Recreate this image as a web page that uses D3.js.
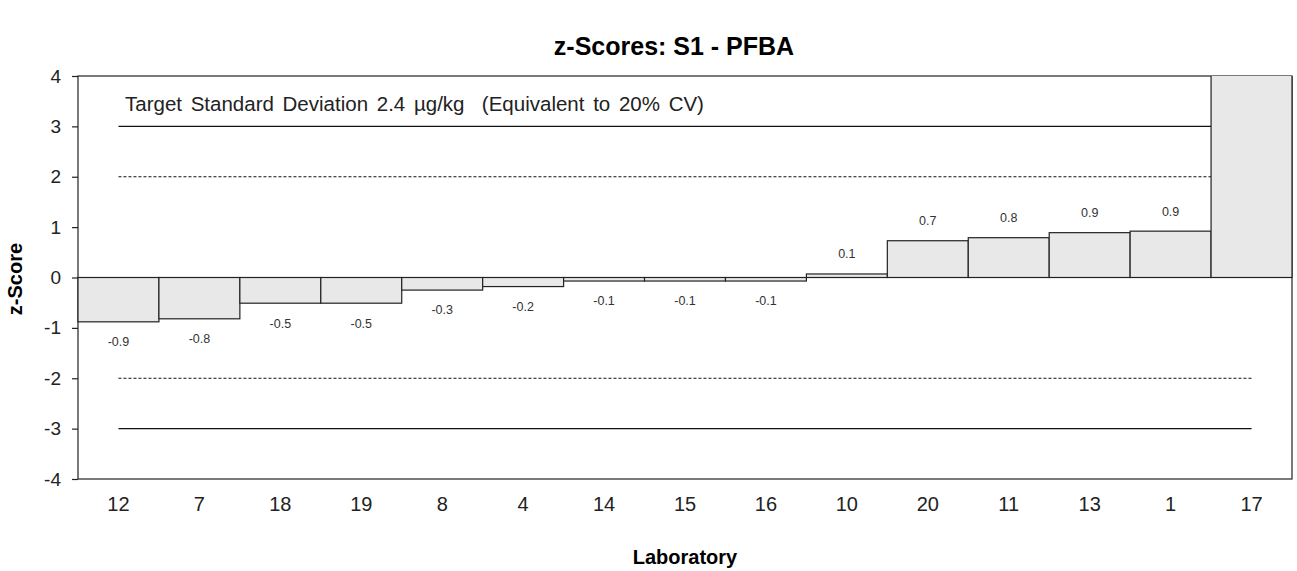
<!DOCTYPE html>
<html>
<head>
<meta charset="utf-8">
<script src="https://cdn.jsdelivr.net/npm/d3@7"></script>
<style>
  body { margin: 0; background: #fff; }
  svg { display: block; font-family: "Liberation Sans", Arial, sans-serif; }
</style>
</head>
<body>
<svg id="chart" width="1297" height="571"></svg>
<script>
// data
const labs = ["12", "7", "18", "19", "8", "4", "14", "15", "16", "10", "20", "11", "13", "1", "17"];
const zScores = [-0.88, -0.82, -0.51, -0.51, -0.25, -0.18, -0.07, -0.07, -0.07, 0.07, 0.73, 0.79, 0.89, 0.92, 5.6];
const yTicks = [-4, -3, -2, -1, 0, 1, 2, 3, 4];
const limits = [
    {v: 3, dash: null}, {v: 2, dash: "3,2"},
    {v: -2, dash: "3,2"}, {v: -3, dash: null}
];

const svg = d3.select("#chart");
const L = 78, R = 1292, T = 76, B = 479;

//** SCALES *****************************************
let x = d3.scaleBand().domain(labs).range([L, R]).padding(0);
let y = d3.scaleLinear().domain([-4, 4]).range([B, T]);
// Excel style: plain hyphen for negatives
const fmt = v => d3.format(".1f")(v).replace("\u2212", "-");

svg.append("defs").append("clipPath").attr("id", "plotclip")
    .append("rect").attr("x", L - 1).attr("y", T).attr("width", R - L + 2).attr("height", B - T);

// plot border
svg.append("rect")
    .attr("x", L).attr("y", T).attr("width", R - L).attr("height", B - T)
    .attr("fill", "none").attr("stroke", "#222").attr("stroke-width", 1.2);

// limit lines
let x0 = x(labs[0]) + x.bandwidth() / 2, x1 = x(labs[labs.length - 1]) + x.bandwidth() / 2;
svg.append("g").selectAll("line")
    .data(limits).enter()
    .append("line")
    .attr("x1", x0).attr("x2", x1)
    .attr("y1", d => y(d.v)).attr("y2", d => y(d.v))
    .attr("stroke", "#111")
    .attr("stroke-width", d => d.dash ? 1 : 1.2)
    .attr("stroke-dasharray", d => d.dash);

//** BARS *****************************************
let plot = svg.append("g").attr("clip-path", "url(#plotclip)");

plot.selectAll("rect.bar")
    .data(labs).enter()
    .append("rect")
    .attr("class", "bar")
    .attr("x", d => x(d))
    .attr("y", (d, i) => y(Math.max(0, zScores[i])))
    .attr("width", x.bandwidth())
    .attr("height", (d, i) => Math.abs(y(zScores[i]) - y(0)))
    .attr("fill", "#e8e8e8")
    .attr("stroke", "#222")
    .attr("stroke-width", 1.2);

// zero line
svg.append("line")
    .attr("x1", L).attr("x2", R)
    .attr("y1", y(0)).attr("y2", y(0))
    .attr("stroke", "#222").attr("stroke-width", 1.2);

// value labels (off-scale bars get none, like the original)
let inRange = labs.map((d, i) => i).filter(i => Math.abs(zScores[i]) <= 4);
plot.selectAll("text.val")
    .data(inRange).enter()
    .append("text")
    .attr("class", "val")
    .attr("x", i => x(labs[i]) + x.bandwidth() / 2)
    .attr("y", i => zScores[i] >= 0 ? y(zScores[i]) - 20 : y(zScores[i]) + 20)
    .attr("dy", "0.35em")
    .attr("text-anchor", "middle")
    .attr("font-size", "12.5px")
    .attr("fill", "#333")
    .text(i => fmt(zScores[i]));

//** AXES *****************************************
let yAxis = d3.axisLeft(y).tickValues(yTicks).tickSize(6).tickPadding(11)
    .tickFormat(d => String(d));
let gy = svg.append("g").attr("transform", "translate(" + L + ",0)").call(yAxis);
gy.select(".domain").remove();
gy.selectAll(".tick line").attr("stroke", "#222").attr("stroke-width", 1.2);
gy.selectAll(".tick text").attr("font-size", "19px").attr("fill", "#222")
    .attr("font-family", "Liberation Sans, Arial, sans-serif");

let xAxis = d3.axisBottom(x).tickSize(0).tickPadding(18);
let gx = svg.append("g").attr("transform", "translate(0," + B + ")").call(xAxis);
gx.select(".domain").remove();
gx.selectAll(".tick text").attr("font-size", "20px").attr("fill", "#222")
    .attr("font-family", "Liberation Sans, Arial, sans-serif");

//** TEXT *****************************************
svg.append("text")
    .attr("x", 674).attr("y", 55)
    .attr("text-anchor", "middle")
    .attr("font-size", "25px").attr("font-weight", "bold")
    .text("z-Scores: S1 - PFBA");

svg.append("text")
    .attr("x", 125).attr("y", 111)
    .attr("font-size", "20.5px").attr("fill", "#222")
    .attr("word-spacing", "3px")
    .attr("xml:space", "preserve")
    .text("Target Standard Deviation 2.4 µg/kg  (Equivalent to 20% CV)");

svg.append("text")
    .attr("transform", "translate(22,279) rotate(-90)")
    .attr("text-anchor", "middle")
    .attr("font-size", "20px").attr("font-weight", "bold")
    .text("z-Score");

svg.append("text")
    .attr("x", 685).attr("y", 564)
    .attr("text-anchor", "middle")
    .attr("font-size", "20px").attr("font-weight", "bold")
    .text("Laboratory");
</script>
</body>
</html>
